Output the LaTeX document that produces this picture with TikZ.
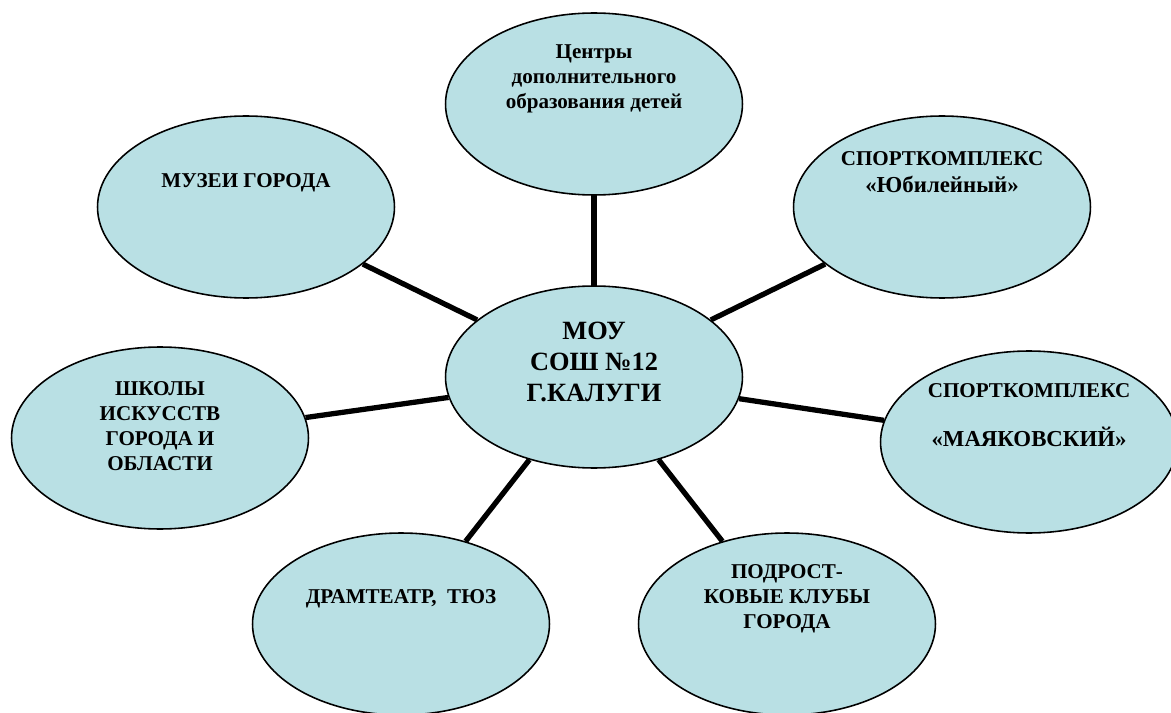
\documentclass[tikz,border=0pt]{standalone}
\usepackage{fontspec}
\setmainfont{Liberation Serif}
\usetikzlibrary{shapes.geometric}

\definecolor{bubblue}{RGB}{185,224,228}

\tikzset{
    bubble/.style={ellipse, draw=black, line width=0.9pt, fill=bubblue,
        minimum width=5.94cm, minimum height=3.64cm, inner sep=0pt},
    bubtext/.style={align=center, inner sep=0pt,
        font=\bfseries\fontsize{12}{14.2}\selectfont},
    link/.style={black, line width=3pt}
}

\begin{document}
\begin{tikzpicture}[x=0.02cm, y=-0.02cm]
            \useasboundingbox (0,0) rectangle (1171,713);

            % ellipses
            \node[bubble] (centr) at (594,377) {};
            \node[bubble] (doped) at (594,104) {};
            \node[bubble] (muzei) at (246,207) {};
            \node[bubble] (yubil) at (942,207) {};
            \node[bubble] (shkoly) at (160,438) {};
            \node[bubble] (mayak) at (1029,442) {};
            \node[bubble] (drama) at (401,624) {};
            \node[bubble] (kluby) at (787,624) {};

            % connectors
            \draw[link] (centr) -- (doped);
            \draw[link] (centr) -- (muzei);
            \draw[link] (centr) -- (yubil);
            \draw[link] (centr) -- (shkoly);
            \draw[link] (centr) -- (mayak);
            \draw[link] (centr) -- (drama);
            \draw[link] (centr) -- (kluby);

            % labels
            \node[bubtext, font=\bfseries\fontsize{15}{17.6}\selectfont] (centr-t) at (594,362) {МОУ\\СОШ №12\\Г.КАЛУГИ};
            \node[bubtext] (doped-t) at (594,79) {Центры\\дополнительного\\образования детей};
            \node[bubtext] (muzei-t) at (246,183) {МУЗЕИ ГОРОДА};
            \node[bubtext] (yubil-t) at (942,172) {СПОРТКОМПЛЕКС\\[1.5pt]{\fontsize{13}{15}\selectfont «Юбилейный»}};
            \node[bubtext] (shkoly-t) at (160,426) {ШКОЛЫ\\ИСКУССТВ\\ГОРОДА И\\ОБЛАСТИ};
            \node[bubtext] (mayak-t) at (1029,415) {СПОРТКОМПЛЕКС\\[14pt]{\fontsize{13}{15}\selectfont «МАЯКОВСКИЙ»}};
            \node[bubtext] (drama-t) at (401,599) {ДРАМТЕАТР,\ \ ТЮЗ};
            \node[bubtext] (kluby-t) at (787,599) {ПОДРОСТ-\\КОВЫЕ КЛУБЫ\\ГОРОДА};
        \end{tikzpicture}
\end{document}
